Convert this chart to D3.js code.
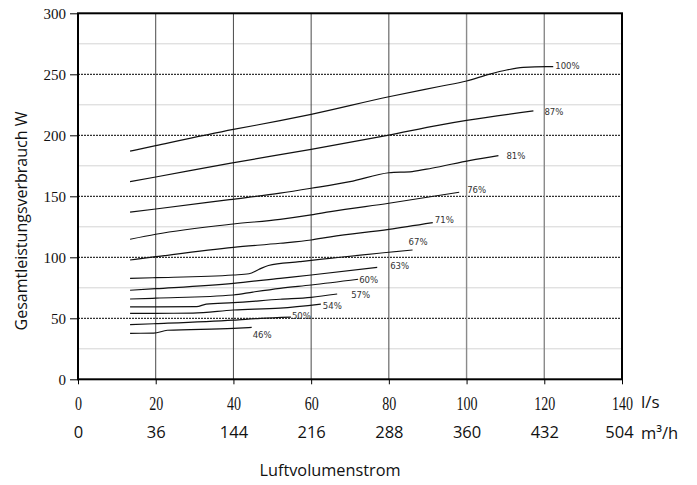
<!DOCTYPE html>
<html>
<head>
<meta charset="utf-8">
<script src="https://cdn.jsdelivr.net/npm/d3@7"></script>
<style>
  html, body { margin: 0; padding: 0; background: #fff; }
  svg { display: block; }
</style>
</head>
<body>
<svg id="chart" width="697" height="485"></svg>
<script>
// Fan power consumption (W) against air volume flow, one curve per fan speed level
const speedLevels = ["100%", "87%", "81%", "76%", "71%", "67%", "63%", "60%", "57%", "54%", "50%", "46%"];

// [flow l/s, power W] along each curve
const curve100 = [[13.4,187],[20,191.5],[40,204.8],[52,212],[60,217.2],[80,231.6],[93,240],[100,244.5],[106,250.2],[110.3,253.5],[114.6,255.6],[120.6,256.3],[122.3,256.3]];
const curve87  = [[13.4,162],[20,165.8],[39,177],[60,188.5],[80,200.2],[93,208.4],[100,212.2],[117.2,220]];
const curve81  = [[13.4,137],[20,139.6],[39,147.3],[52,152.6],[60,156.6],[70,162],[80,169.3],[86,170.3],[91,173],[101,179.5],[108.2,183.3]];
const curve76  = [[13.4,114.8],[20,118.9],[40,127.3],[52,131.1],[60,134.7],[65,137.4],[80,144.3],[98.1,153.3]];
const curve71  = [[13.4,97.8],[20,100.5],[40,108.2],[52,111.5],[60,114.2],[65,116.8],[80,122.9],[91.3,128.4]];
const curve67  = [[13.4,82.8],[20,83.3],[40,85.5],[44,86.5],[46.5,90],[49,93.3],[57,96.4],[60,97.5],[86.1,106]];
const curve63  = [[13.4,73],[20,74.3],[40,78.7],[52,82.8],[60,85.5],[77,91.8]];
const curve60  = [[13.4,65.8],[20,66.5],[40,69.1],[45,71.5],[52,74.6],[60,77.3],[72.1,82]];
const curve57  = [[13.4,59.3],[20,59.3],[30.5,59.5],[33,61.6],[40,62.8],[52,65.6],[60,67.2],[66.7,69.9]];
const curve54  = [[13.4,54.1],[20,54.1],[29.6,54.3],[40,56.8],[52,58.4],[62.5,61.7]];
const curve50  = [[13.4,44.8],[20,45.6],[40,48.5],[47,50],[54.8,51]];
const curve46  = [[13.4,37.7],[19.5,37.8],[23,40.2],[40,41.7],[44.7,42.6]];

const curves = [curve100, curve87, curve81, curve76, curve71, curve67, curve63, curve60, curve57, curve54, curve50, curve46];

// Axis ticks
const flowTicks = [0, 20, 40, 60, 80, 100, 120, 140];
const m3hLabels = ["0", "36", "144", "216", "288", "360", "432", "504"];
const powerTicks = [0, 50, 100, 150, 200, 250, 300];
const minorPowerLines = [25, 75, 125, 175, 225, 275];

// Label placement next to each curve end (pixels)
const labelNudge = {
  "100%": [2, -1.5], "87%": [11, 1], "81%": [8, 0], "76%": [8, -3],
  "71%": [2, -3], "67%": [-4, -8], "63%": [13, -2], "60%": [1, 0],
  "57%": [14, 0], "54%": [2, 1], "50%": [1, -2], "46%": [1, 7]
};

const svg = d3.select("#chart");
const plotLeft = 78, plotRight = 622, plotTop = 13.3, plotBottom = 379.3;

const x = d3.scaleLinear().domain([0, 140]).range([plotLeft, plotRight]);
const y = d3.scaleLinear().domain([0, 300]).range([plotBottom, plotTop]);

const sansFont = "'Open Sans', 'Noto Sans', sans-serif";
const serifFont = "'Liberation Serif', 'DejaVu Serif', serif";

// light minor gridlines
svg.append("g").selectAll("line").data(minorPowerLines).join("line")
  .attr("x1", plotLeft).attr("x2", plotRight)
  .attr("y1", d => y(d)).attr("y2", d => y(d))
  .attr("stroke", "#d4d4d4").attr("stroke-width", 1);

// dashed major gridlines
svg.append("g").selectAll("line").data(powerTicks.filter(d => d > 0 && d < 300)).join("line")
  .attr("x1", plotLeft).attr("x2", plotRight)
  .attr("y1", d => y(d)).attr("y2", d => y(d))
  .attr("stroke", "#000").attr("stroke-width", 1)
  .attr("stroke-dasharray", "2,1");

// vertical gridlines
svg.append("g").selectAll("line").data(flowTicks.filter(d => d > 0 && d < 140)).join("line")
  .attr("x1", d => x(d)).attr("x2", d => x(d))
  .attr("y1", plotTop).attr("y2", plotBottom)
  .attr("stroke", d => d >= 100 ? "#8a8a8a" : "#4a4a4a")
  .attr("stroke-width", d => d >= 100 ? 1.4 : 1);

// y axis (left)
const yAxis = svg.append("g")
  .attr("transform", `translate(${plotLeft},0)`)
  .call(d3.axisLeft(y).tickValues(powerTicks).tickSize(8).tickPadding(4).tickFormat(d3.format("d")));
yAxis.select(".domain").remove();
yAxis.selectAll("line").attr("stroke", "#000");
yAxis.selectAll("text")
  .attr("font-family", serifFont).attr("font-size", 15).attr("fill", "#111");

// x axis (l/s)
const xAxis = svg.append("g")
  .attr("transform", `translate(0,${plotBottom})`)
  .call(d3.axisBottom(x).tickValues(flowTicks).tickSize(5).tickPadding(13).tickFormat(d3.format("d")));
xAxis.select(".domain").remove();
xAxis.selectAll("line").attr("stroke", "#000");
xAxis.selectAll("text")
  .attr("font-family", serifFont).attr("font-size", 18).attr("fill", "#111")
  .attr("transform", "scale(0.78,1)");

// second row of x labels (m³/h)
const xAxis2 = svg.append("g")
  .attr("transform", `translate(0,${plotBottom})`)
  .call(d3.axisBottom(x).tickValues(flowTicks).tickSize(0).tickPadding(47)
    .tickFormat((d, i) => m3hLabels[i]));
xAxis2.select(".domain").remove();
xAxis2.selectAll("text")
  .attr("font-family", sansFont).attr("font-size", 16.5).attr("fill", "#111")
  .attr("dx", d => d === 140 ? -3 : 0);

// unit labels
svg.append("text").attr("x", 641).attr("y", 408)
  .attr("font-family", sansFont).attr("font-size", 17).attr("fill", "#111")
  .text("l/s");
svg.append("text").attr("x", 641).attr("y", 439)
  .attr("font-family", sansFont).attr("font-size", 16.5).attr("fill", "#111")
  .text("m³/h");

// plot frame
svg.append("rect")
  .attr("x", plotLeft).attr("y", plotTop)
  .attr("width", plotRight - plotLeft).attr("height", plotBottom - plotTop)
  .attr("fill", "none").attr("stroke", "#000").attr("stroke-width", 2);

// curves
const line = d3.line().x(d => x(d[0])).y(d => y(d[1])).curve(d3.curveMonotoneX);
svg.append("g").selectAll("path").data(curves).join("path")
  .attr("d", line)
  .attr("fill", "none").attr("stroke", "#111").attr("stroke-width", 1.2);

// speed level labels
svg.append("g").selectAll("text").data(curves).join("text")
  .attr("x", (c, i) => x(c[c.length - 1][0]) + labelNudge[speedLevels[i]][0])
  .attr("y", (c, i) => y(c[c.length - 1][1]) + labelNudge[speedLevels[i]][1])
  .attr("dominant-baseline", "central")
  .attr("font-family", "'DejaVu Sans Condensed', 'DejaVu Sans', sans-serif")
  .attr("font-stretch", "condensed")
  .attr("font-size", 9.5).attr("fill", "#333")
  .text((c, i) => speedLevels[i]);

// axis titles
svg.append("text")
  .attr("transform", "translate(27,221) rotate(-90)")
  .attr("text-anchor", "middle")
  .attr("font-family", sansFont).attr("font-size", 16).attr("fill", "#111")
  .text("Gesamtleistungsverbrauch W");

svg.append("text")
  .attr("x", 330).attr("y", 476)
  .attr("text-anchor", "middle")
  .attr("font-family", sansFont).attr("font-size", 16.3).attr("fill", "#111")
  .text("Luftvolumenstrom");
</script>
</body>
</html>
